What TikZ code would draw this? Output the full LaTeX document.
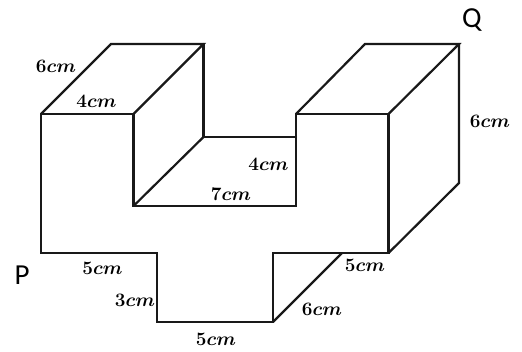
\documentclass[tikz,border=0pt]{standalone}
\usepackage{fontspec}
\newfontfamily\labelfont{Carlito}
\tikzset{
  edge/.style={draw=black!90,line width=2.2pt,line join=miter,line cap=round},
  dim/.style={inner sep=0pt,scale=1.1,transform shape,font=\fontsize{17.28}{18}\selectfont\boldmath},
  corner/.style={inner sep=0pt,font=\fontsize{29}{29}\selectfont\labelfont}
}
\begin{document}
\begin{tikzpicture}[x=1pt,y=-1pt]
\useasboundingbox (0,0) rectangle (522,351);
\fill[white] (0,0) rectangle (522,351);
% front outline
\coordinate (a) at (41,114);
\coordinate (b) at (133.5,114);
\coordinate (c) at (133.5,206);
\coordinate (d) at (296,206);
\coordinate (e) at (296,114);
\coordinate (f) at (388.5,114);
\coordinate (g) at (388.5,253);
\coordinate (h) at (273,253);
\coordinate (i) at (273,322);
\coordinate (j) at (157,322);
\coordinate (k) at (157,253);
\coordinate (l) at (41,253);
% back points
\coordinate (a2) at (111,44);
\coordinate (b2) at (203.5,44);
\coordinate (c2) at (203.5,137);
\coordinate (d2) at (296,137);
\coordinate (e2) at (365,44);
\coordinate (f2) at (459,44);
\coordinate (g2) at (459,183);
\coordinate (i2) at (342,253);
\draw[edge] (a)--(b)--(c)--(d)--(e)--(f)--(g)--(h)--(i)--(j)--(k)--(l)--cycle;
\draw[edge] (a)--(a2)--(b2)--(b);
\draw[edge] (b2)--(c2)--(d2);
\draw[edge] (c)--(c2);
\draw[edge] (e)--(e2)--(f2)--(f);
\draw[edge] (f2)--(g2)--(g);
\draw[edge] (i)--(i2);
\node[dim] (t1) at (56,66) {$6cm$};
\node[dim] (t2) at (96.5,101.5) {$4cm$};
\node[dim] (t3) at (231,194) {$7cm$};
\node[dim] (t4) at (268.5,164) {$4cm$};
\node[dim] (t5) at (490,121) {$6cm$};
\node[dim] (t6) at (102.5,268) {$5cm$};
\node[dim] (t7) at (135,300) {$3cm$};
\node[dim] (t8) at (216,339) {$5cm$};
\node[dim] (t9) at (365,265) {$5cm$};
\node[dim] (t10) at (322,309.5) {$6cm$};
\node[corner] (p) at (22,275) {P};
\node[corner] (q) at (472,20) {Q};
\end{tikzpicture}
\end{document}
